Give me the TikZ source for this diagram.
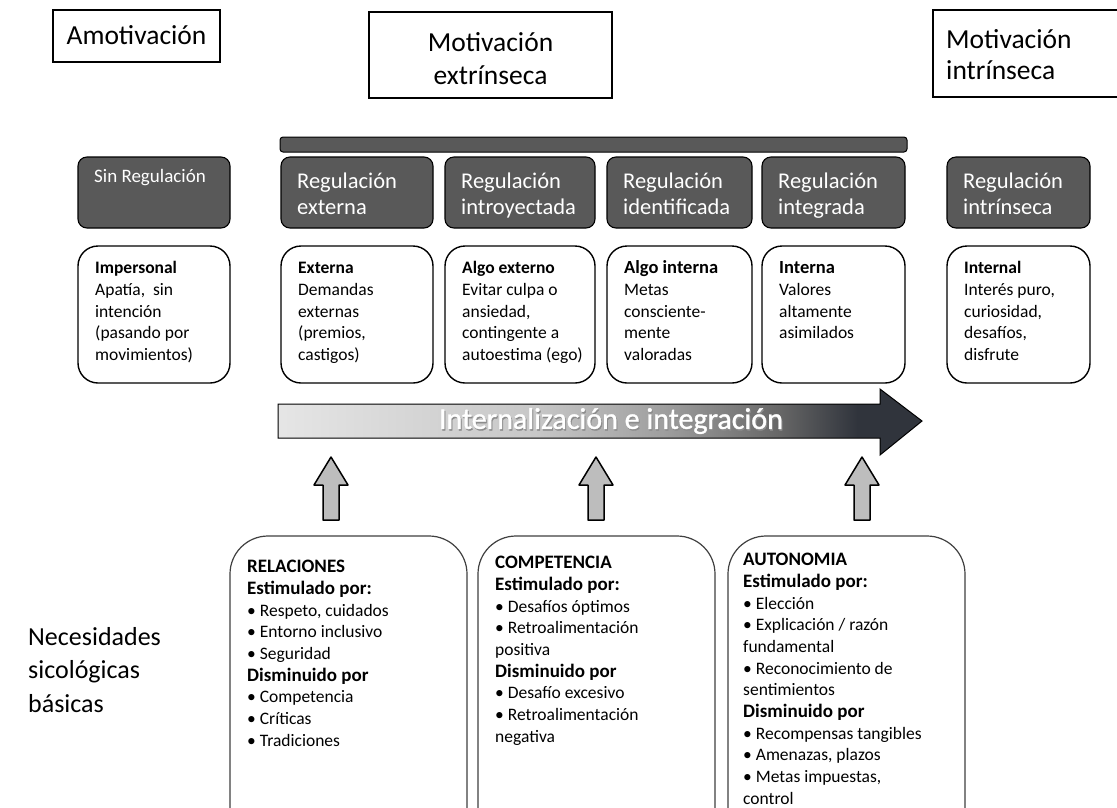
\documentclass[tikz,border=0pt]{standalone}
\usepackage{fontspec}
\setmainfont{Carlito}
\newfontfamily\heavyfont[FakeBold=1.2]{Carlito}
\usetikzlibrary{calc}
\definecolor{darkbox}{HTML}{595959}
\definecolor{arrowfill}{HTML}{BDBDBD}
\definecolor{edgegray}{HTML}{404040}
\definecolor{arrowdark}{HTML}{30343C}
\pgfdeclarehorizontalshading{intshade}{100bp}{%
  color(0bp)=(black!10); color(25bp)=(black!10); color(45bp)=(black!22);
  color(55bp)=(black!38); color(64bp)=(black!60); color(70bp)=(arrowdark); color(75bp)=(arrowdark); color(100bp)=(arrowdark)}
\tikzset{
  headbox/.style={draw=black, line width=1.6pt, fill=white},
  regbox/.style={draw=black, line width=1.1pt, fill=darkbox, rounded corners=9pt},
  descbox/.style={draw=black, line width=1.4pt, fill=white, rounded corners=20pt},
  needbox/.style={draw=edgegray, line width=1.2pt, rounded corners=38pt},
  regtext/.style={anchor=north west, text=white, align=left, inner sep=0pt,
    font=\fontsize{22.5}{25.5}\selectfont},
  desctext/.style={anchor=north west, align=left, inner sep=0pt,
    font=\fontsize{17.5}{21.6}\selectfont},
  needtext/.style={anchor=north west, align=left, inner sep=0pt,
    font=\fontsize{17.5}{21.7}\selectfont},
  uparrow/.style={draw=black, line width=1.5pt, fill=arrowfill, line join=round}
}
\newcommand{\regpair}[7]{%
  % #1 name, #2 left, #3 right, #4 header text, #5 description, #6 header font, #7 header top
  \draw[regbox] (#2,157) rectangle (#3,228);
  \node[regtext, font=#6] (#1h) at (#2+16,#7) {\vphantom{Ál}#4};
  \draw[descbox] (#2,246) rectangle (#3,383);
  \node[desctext] (#1d) at (#2+17,259) {\vphantom{Ál}#5};
}
\newcommand{\fatup}[2]{%
  % thick upward arrow centred at x=#1 with its tip at y=#2
  \draw[uparrow] (#1,#2) -- (#1+17,#2+28) -- (#1+8,#2+28) -- (#1+8,#2+63)
    -- (#1-8,#2+63) -- (#1-8,#2+28) -- (#1-17,#2+28) -- cycle;
}
\newcommand{\sub}[1]{\textbf{\fontsize{19}{21.7}\selectfont #1}}
\begin{document}
\begin{tikzpicture}[x=1pt, y=-1pt]
\useasboundingbox (0,0) rectangle (1117,807);
\fill[white] (0,0) rectangle (1117,807);

% motivation types
\draw[headbox] (53,10) rectangle (220,62);
\node[font=\fontsize{27.5}{33}\selectfont] (amot) at (136.5,35.5) {Amotivación};
\draw[headbox] (369,12) rectangle (612,98);
\node[font=\fontsize{27.5}{33}\selectfont, align=center] (extr) at (490.5,58.5) {Motivación\\extrínseca};
\draw[headbox] (933,10) rectangle (1130,97);
\node[font=\fontsize{27.5}{31}\selectfont, align=left, anchor=west, inner sep=0pt] (intr) at (946,55) {Motivación\\intrínseca};

% bracket grouping the extrinsic regulations
\fill[darkbox, draw=black, line width=1pt, rounded corners=3pt] (280,137) rectangle (907,152);

% regulation styles and loci
\regpair{sin}{78}{230}{Sin Regulación}{\textbf{Impersonal}\\Apatía,\ \ sin\\intención\\(pasando por\\movimientos)}{\fontsize{19}{22}\selectfont}{166}
\regpair{ext}{281}{433}{Regulación\\externa}{\textbf{Externa}\\Demandas\\externas\\(premios,\\castigos)}{\fontsize{22.5}{25.5}\selectfont}{170}
\regpair{intro}{445}{595}{Regulación\\introyectada}{\textbf{Algo externo}\\Evitar culpa o\\ansiedad,\\contingente a\\autoestima (ego)}{\fontsize{22.5}{25.5}\selectfont}{170}
\regpair{iden}{607}{752}{Regulación\\identificada}{\textbf{\fontsize{18.5}{21.6}\selectfont Algo interna}\\Metas\\consciente-\\mente\\valoradas}{\fontsize{22.5}{25.5}\selectfont}{170}
\regpair{integ}{762}{905}{Regulación\\integrada}{\textbf{\fontsize{18.5}{21.6}\selectfont Interna}\\Valores\\altamente\\asimilados}{\fontsize{22.5}{25.5}\selectfont}{170}
\regpair{intrin}{947}{1090}{Regulación\\intrínseca}{\textbf{Internal}\\Interés puro,\\curiosidad,\\desafíos,\\disfrute}{\fontsize{22.5}{25.5}\selectfont}{170}

% internalization arrow
\shade[shading=intshade, draw=black, line width=1pt]
  (278,404) -- (880,404) -- (880,389) -- (922,421) -- (880,455) -- (880,438) -- (278,438) -- cycle;
\node[text=black!45, font=\heavyfont\fontsize{30}{34}\selectfont] at (612,422.5) {Internalización e integración};
\node[text=white, font=\heavyfont\fontsize{30}{34}\selectfont] (intlabel) at (611,421) {Internalización e integración};

% basic psychological needs
\fatup{331}{457}
\fatup{596}{457}
\fatup{862}{457}

\draw[needbox] (230,830) -- (230,536) -- (467,536) -- (467,830);
\draw[needbox] (478,830) -- (478,536) -- (715,536) -- (715,830);
\draw[needbox] (728,830) -- (728,536) -- (965,536) -- (965,830);

\node[needtext] (rel) at (247,560) {\sub{RELACIONES}\\\sub{Estimulado por:}\\• Respeto, cuidados\\• Entorno inclusivo\\• Seguridad\\\sub{Disminuido por}\\• Competencia\\• Críticas\\• Tradiciones};
\node[needtext] (comp) at (495,556) {\sub{COMPETENCIA}\\\sub{Estimulado por:}\\• Desafíos óptimos\\• Retroalimentación\\positiva\\\sub{Disminuido por}\\• Desafío excesivo\\• Retroalimentación\\negativa};
\node[needtext] (auto) at (743,553) {\sub{AUTONOMIA}\\\sub{Estimulado por:}\\• Elección\\• Explicación / razón\\fundamental\\• Reconocimiento de\\sentimientos\\\sub{Disminuido por}\\• Recompensas tangibles\\• Amenazas, plazos\\• Metas impuestas,\\control};

\node[anchor=west, align=left, inner sep=0pt, font=\fontsize{26}{33.5}\selectfont] (needs) at (28,670) {Necesidades\\sicológicas\\básicas};
\end{tikzpicture}
\end{document}
